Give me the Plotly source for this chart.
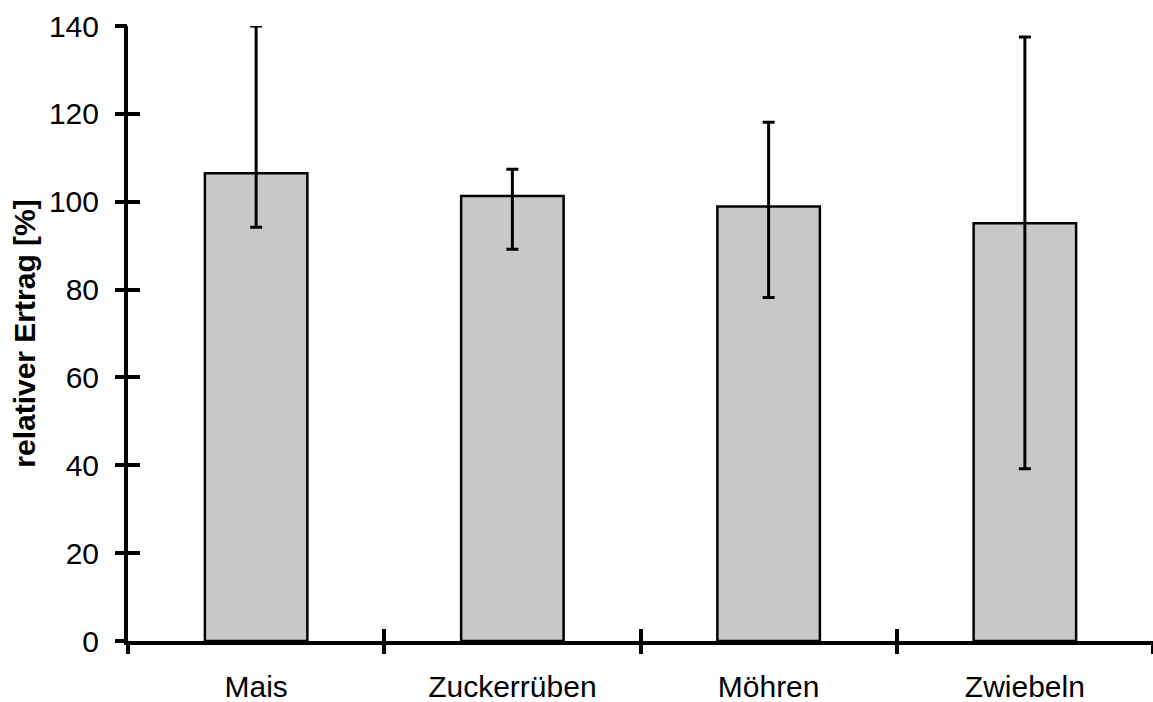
import plotly.graph_objects as go

# Relative yield per crop with asymmetric error ranges
crops = ["Mais", "Zuckerrüben", "Möhren", "Zwiebeln"]
relative_yield = [106.5, 101.3, 98.9, 95.1]
err_upper = [33.5, 6.1, 19.2, 42.4]
err_lower = [12.3, 12.1, 20.7, 55.9]

y_ticks = [0, 20, 40, 60, 80, 100, 120, 140]

FONT = "Liberation Sans, Arial, sans-serif"

fig = go.Figure()

fig.add_trace(go.Bar(
    x=crops,
    y=relative_yield,
    width=0.4,
    marker=dict(color="#c8c8c8", line=dict(color="black", width=2.5)),
    error_y=dict(
        type="data",
        symmetric=False,
        array=err_upper,
        arrayminus=err_lower,
        color="black",
        thickness=3,
        width=6,
    ),
    showlegend=False,
    hoverinfo="skip",
))

# Invisible trace on the overlay axes that carry the outward half of the crossing ticks
fig.add_trace(go.Scatter(
    x=crops, y=relative_yield, xaxis="x2", yaxis="y2",
    mode="markers", marker=dict(opacity=0), showlegend=False, hoverinfo="skip",
))

axis_common = dict(ticklen=12, tickwidth=4, tickcolor="black", automargin=False)

fig.update_layout(
    width=1153,
    height=702,
    margin=dict(l=128, r=0, t=26, b=61),
    paper_bgcolor="white",
    plot_bgcolor="rgba(0,0,0,0)",
    font=dict(family=FONT, color="black", size=30),
    xaxis=dict(
        type="category",
        categoryorder="array",
        categoryarray=crops,
        range=[-0.5, 3.5],
        tickson="boundaries",
        ticks="inside",
        showline=True,
        linewidth=4,
        linecolor="black",
        showgrid=False,
        zeroline=False,
        tickfont=dict(size=30, family=FONT),
        ticklabelstandoff=16,
        **axis_common,
    ),
    xaxis2=dict(
        type="category",
        categoryorder="array",
        categoryarray=crops,
        range=[-0.5, 3.5],
        overlaying="x",
        anchor="y",
        tickson="boundaries",
        ticks="outside",
        showticklabels=False,
        showline=False,
        showgrid=False,
        zeroline=False,
        **axis_common,
    ),
    yaxis=dict(
        range=[0, 140],
        tickvals=y_ticks,
        ticks="inside",
        showline=True,
        linewidth=4,
        linecolor="black",
        showgrid=False,
        zeroline=False,
        tickfont=dict(size=30, family=FONT),
        ticklabelstandoff=19,
        title=dict(text="<b>relativer Ertrag [%]</b>", font=dict(size=30, family=FONT), standoff=5),
        **axis_common,
    ),
    yaxis2=dict(
        range=[0, 140],
        tickvals=y_ticks,
        overlaying="y",
        anchor="x",
        ticks="outside",
        showticklabels=False,
        showline=False,
        showgrid=False,
        zeroline=False,
        **axis_common,
    ),
)

fig.write_html("out.html")
